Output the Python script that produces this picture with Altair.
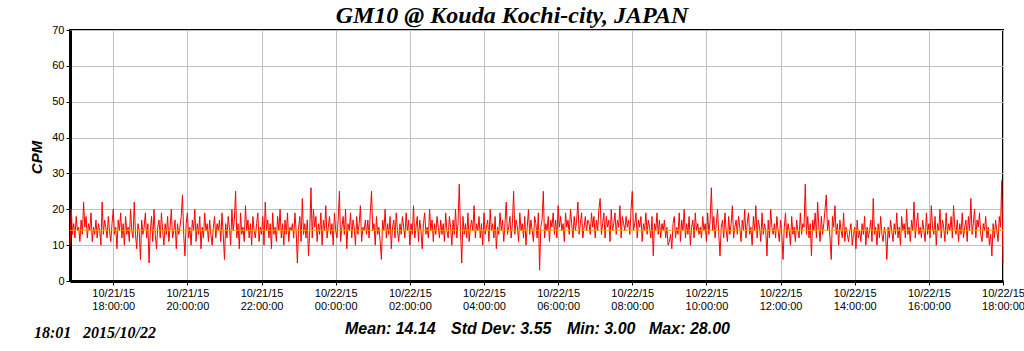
import altair as alt
import pandas as pd

TITLE = "GM10 @ Kouda Kochi-city, JAPAN"
Y_TITLE = "CPM"
STATS = ["Mean: 14.14", "Std Dev: 3.55", "Min: 3.00", "Max: 28.00"]
STAMP = ["18:01", "2015/10/22"]
MEAN = 14.14
START = "2015-10-21 16:50"
STEP = "2min"
Y_TICKS = [0, 10, 20, 30, 40, 50, 60, 70]

# CPM readings, one every 2 minutes from 16:50 (10/21) to 18:00 (10/22)
CPM = [
    10, 20, 13, 16, 12, 18, 14, 15, 11, 17, 13, 22, 15, 18, 12, 16, 14, 19, 11, 15, 13, 17, 12, 16, 14, 10, 22, 13, 17, 15,
    12, 18, 14, 11, 16, 20, 13, 15, 9, 17, 14, 19, 12, 16, 10, 18, 13, 15, 11, 20, 14, 12, 22, 13, 9, 16, 14, 6, 17, 13,
    15, 19, 12, 16, 5, 14, 18, 11, 20, 13, 9, 15, 17, 12, 19, 14, 10, 16, 13, 18, 11, 15, 20, 12, 14, 17, 9, 16, 13, 15,
    18, 24, 13, 7, 16, 19, 12, 15, 10, 17, 14, 20, 11, 16, 13, 18, 9, 15, 12, 19, 14, 16, 11, 17, 13, 10, 15, 18, 12, 16,
    14, 17, 11, 19, 13, 6, 16, 12, 18, 15, 10, 20, 14, 17, 25, 12, 16, 9, 19, 13, 15, 11, 21, 14, 17, 12, 16, 10, 18, 14,
    12, 16, 19, 11, 15, 13, 18, 10, 22, 14, 17, 12, 16, 9, 19, 13, 15, 11, 18, 14, 20, 12, 16, 10, 17, 13, 19, 11, 15, 14,
    16, 12, 19, 14, 5, 15, 18, 11, 23, 13, 16, 12, 17, 7, 14, 26, 12, 20, 15, 18, 11, 16, 13, 19, 10, 17, 14, 21, 12, 15,
    18, 13, 16, 10, 19, 14, 12, 17, 25, 11, 15, 18, 13, 20, 9, 16, 14, 19, 12, 17, 15, 10, 18, 13, 16, 21, 11, 15, 14, 17,
    13, 17, 12, 19, 25, 14, 16, 10, 18, 13, 15, 11, 6, 17, 14, 20, 12, 16, 13, 18, 9, 15, 17, 12, 19, 14, 11, 16, 13, 18,
    15, 12, 19, 14, 17, 10, 16, 13, 21, 12, 15, 18, 11, 17, 14, 9, 16, 19, 13, 15, 12, 20, 14, 17, 11, 16, 13, 18, 15, 12,
    17, 13, 16, 11, 19, 14, 12, 18, 15, 10, 17, 13, 20, 12, 16, 27, 14, 5, 18, 13, 16, 12, 19, 11, 15, 17, 14, 21, 12, 16,
    14, 18, 12, 16, 10, 19, 13, 15, 17, 11, 20, 14, 16, 12, 18, 9, 15, 13, 19, 14, 17, 11, 16, 22, 13, 15, 18, 12, 16, 25,
    13, 17, 15, 11, 19, 14, 16, 12, 18, 10, 15, 20, 13, 17, 14, 11, 18, 16, 12, 19, 3, 15, 17, 25, 12, 16, 14, 18, 11, 17,
    15, 19, 13, 17, 12, 21, 15, 18, 14, 16, 11, 19, 15, 17, 13, 20, 16, 12, 18, 14, 17, 22, 13, 16, 19, 12, 15, 18, 14, 17,
    16, 13, 19, 15, 18, 12, 17, 14, 20, 23, 13, 16, 19, 12, 18, 15, 17, 11, 20, 14, 16, 19, 13, 17, 15, 21, 12, 18, 16, 14,
    18, 15, 17, 13, 20, 25, 14, 16, 19, 12, 17, 15, 18, 11, 16, 14, 19, 13, 17, 15, 12, 18, 7, 16, 14, 19, 13, 17, 12, 16,
    14, 17, 12, 15, 10, 11, 13, 9, 16, 18, 12, 15, 13, 19, 11, 17, 14, 20, 12, 16, 13, 18, 10, 15, 17, 12, 19, 14, 16, 13,
    15, 12, 18, 14, 16, 11, 19, 13, 17, 26, 14, 18, 12, 16, 20, 13, 7, 15, 17, 12, 19, 14, 11, 18, 13, 16, 21, 12, 15, 17,
    13, 18, 15, 11, 17, 14, 20, 12, 16, 19, 13, 15, 10, 18, 14, 21, 12, 17, 15, 11, 19, 13, 16, 14, 7, 17, 12, 20, 15, 13,
    16, 12, 18, 14, 11, 17, 13, 6, 15, 19, 12, 16, 14, 10, 18, 13, 15, 11, 17, 14, 12, 19, 13, 16, 15, 27, 13, 18, 12, 16,
    7, 17, 14, 19, 12, 22, 15, 11, 18, 13, 16, 20, 24, 14, 17, 12, 6, 18, 15, 21, 13, 16, 10, 17, 14, 12, 19, 11, 15, 13,
    11, 14, 16, 10, 13, 15, 9, 17, 12, 14, 11, 16, 13, 18, 10, 15, 12, 14, 17, 11, 23, 13, 15, 10, 16, 12, 18, 13, 11, 15,
    13, 6, 15, 12, 17, 14, 11, 16, 13, 19, 12, 15, 10, 18, 14, 16, 12, 20, 13, 15, 11, 17, 14, 22, 12, 16, 19, 13, 15, 12,
    17, 14, 11, 19, 13, 16, 12, 21, 15, 13, 18, 10, 16, 14, 20, 12, 17, 15, 11, 19, 13, 16, 14, 18, 12, 21, 15, 13, 17, 11,
    16, 13, 19, 12, 15, 17, 11, 18, 14, 23, 13, 16, 20, 12, 17, 15, 19, 13, 11, 16, 14, 18, 12, 15, 10, 13, 7, 16, 12, 17,
    14, 11, 18, 15, 28, 5,
]

times = pd.date_range(START, periods=len(CPM), freq=STEP)
df = pd.DataFrame({
    "time": [int(t.timestamp() * 1000) for t in times],
    "cpm": CPM,
})

x_start = int(pd.Timestamp(START).timestamp() * 1000)
x_end = int(times[-1].timestamp() * 1000)
x_ticks = [int((pd.Timestamp("2015-10-21 18:00") + pd.Timedelta(hours=2 * i)).timestamp() * 1000) for i in range(13)]

SANS = "Liberation Sans"
SERIF = "Liberation Serif"

x_enc = alt.X(
    "time:T",
    scale=alt.Scale(type="utc", domain=[x_start, x_end]),
    axis=alt.Axis(
        values=x_ticks,
        labelExpr="[utcFormat(datum.value, '%m/%d/%y'), utcFormat(datum.value, '%H:%M:%S')]",
        title=None,
        labelFont=SANS, labelFontSize=11, labelColor="#000000",
        labelLineHeight=13, labelPadding=2,
        tickSize=4, tickColor="#000000",
        domainColor="#000000", domainWidth=3,
        grid=True, gridColor="#c0c0c0", gridWidth=1,
        labelFlush=False, labelOverlap=False,
    ),
)
y_scale = alt.Scale(domain=[0, 70], nice=False)
y_axis = alt.Axis(
    values=Y_TICKS,
    title=Y_TITLE, titleFont=SANS, titleFontSize=15, titleFontStyle="italic",
    titleFontWeight="bold", titleColor="#000000", titleAngle=270,
    titleX=-29, titleY=127, titleAlign="center", titleBaseline="alphabetic",
    labelFont=SANS, labelFontSize=11, labelColor="#000000", labelPadding=2,
    labelOverlap=False,
    tickSize=4, tickColor="#000000",
    domainColor="#000000", domainWidth=3,
    grid=True, gridColor="#c0c0c0", gridWidth=1,
)

line = alt.Chart(df).mark_line(color="#ff0000", strokeWidth=1).encode(
    x=x_enc, y=alt.Y("cpm:Q", scale=y_scale, axis=y_axis)
)

mean_rule = alt.Chart(pd.DataFrame({"mean": [MEAN]})).mark_rule(
    color="#ffa500", strokeWidth=1
).encode(y=alt.Y("mean:Q", scale=y_scale, axis=y_axis))


def label(text, px, py, font, size, align="left"):
    return alt.Chart(pd.DataFrame({"s": [text]})).mark_text(
        font=font, fontSize=size, fontStyle="italic", fontWeight="bold",
        align=align, baseline="alphabetic", color="#000000",
    ).encode(x=alt.value(px), y=alt.value(py), text="s:N")


stat_x = [275, 381, 497, 579]
stat_layers = [label(s, px, 304, SANS, 16) for s, px in zip(STATS, stat_x)]
stamp_layers = [label(STAMP[0], -36, 308, SERIF, 16), label(STAMP[1], 13, 308, SERIF, 16)]
title = label(TITLE, 442, -7, SERIF, 24, align="center")

chart = alt.layer(line, mean_rule, *stat_layers, *stamp_layers, title).properties(
    width=933,
    height=251,
    autosize=alt.AutoSizeParams(type="none"),
    padding={"left": 70, "top": 30, "right": 21, "bottom": 70},
    background="#ffffff",
).configure_view(stroke="#000000", strokeWidth=2)

chart.save("out.html", embed_options={"renderer": "svg", "actions": False})
